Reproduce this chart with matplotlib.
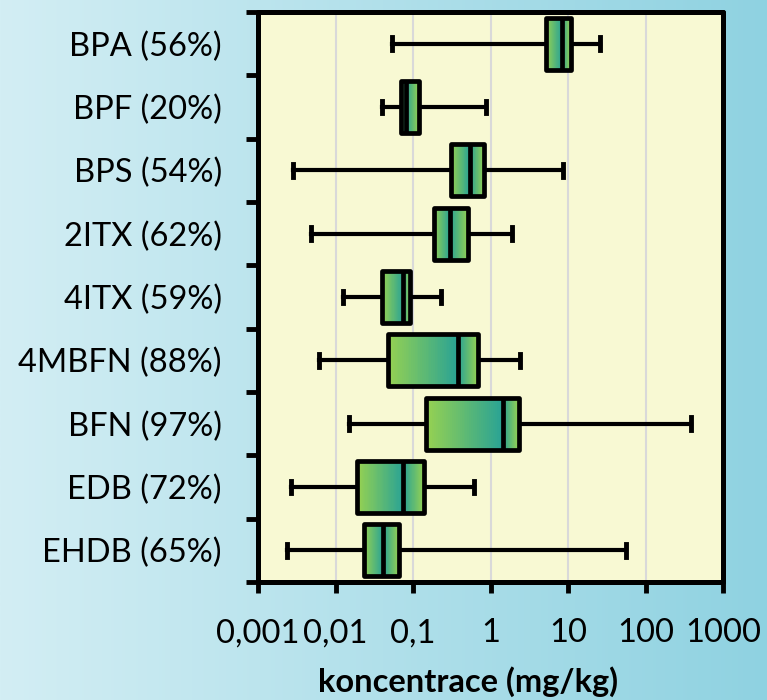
import numpy as np
import matplotlib
matplotlib.use("Agg")
import matplotlib.pyplot as plt
from matplotlib.colors import LinearSegmentedColormap
from matplotlib.ticker import FixedLocator, NullFormatter

plt.rcParams["font.family"] = ["Lato", "DejaVu Sans"]

labels = ["BPA (56%)", "BPF (20%)", "BPS (54%)", "2ITX (62%)", "4ITX (59%)",
          "4MBFN (88%)", "BFN (97%)", "EDB (72%)", "EHDB (65%)"]
whislo = [0.053, 0.0395, 0.00286, 0.0049, 0.0124, 0.0062, 0.0151, 0.0027, 0.00234]
q1 = [5.2, 0.069, 0.31, 0.185, 0.040, 0.047, 0.148, 0.019, 0.023]
med = [8.3, 0.081, 0.54, 0.30, 0.075, 0.385, 1.44, 0.075, 0.0414]
q3 = [10.8, 0.120, 0.83, 0.52, 0.091, 0.68, 2.3, 0.14, 0.066]
whishi = [25.9, 0.875, 8.5, 1.88, 0.23, 2.4, 383, 0.61, 55.5]

xticks = [0.001, 0.01, 0.1, 1, 10, 100, 1000]
xticklabels = ["0,001", "0,01", "0,1", "1", "10", "100", "1000"]

n = len(labels)
positions = np.arange(n, 0, -1)  # BPA on top
box_w = 0.82

fig = plt.figure(figsize=(7.67, 7.0), dpi=100)

# background gradient of the whole figure
bg = fig.add_axes([0, 0, 1, 1], zorder=-10)
bg_cmap = LinearSegmentedColormap.from_list("bg", ["#d3eef4", "#8fd2e1"])
bg.imshow(np.linspace(0, 1, 256).reshape(1, -1), cmap=bg_cmap, aspect="auto",
          extent=[0, 1, 0, 1])
bg.set_axis_off()

ax = fig.add_axes([258 / 767, 1 - 582 / 700, (723 - 258) / 767, (582 - 12) / 700])
ax.set_facecolor("#f8f9d3")
ax.set_xscale("log")
ax.set_xlim(0.001, 1000)
ax.set_ylim(0.5, n + 0.5)

box_cmap = LinearSegmentedColormap.from_list("box", ["#95d152", "#2aa394"])
for i in range(n):
    y0, y1 = positions[i] - box_w / 2, positions[i] + box_w / 2
    xl = np.geomspace(q1[i], med[i], 40)
    ax.pcolormesh(xl, [y0, y1], np.linspace(0, 1, 39).reshape(1, -1),
                  cmap=box_cmap, vmin=0, vmax=1, zorder=2.5)
    xr = np.geomspace(med[i], q3[i], 40)
    ax.pcolormesh(xr, [y0, y1], np.linspace(1, 0, 39).reshape(1, -1),
                  cmap=box_cmap, vmin=0, vmax=1, zorder=2.5)

stats = [dict(whislo=whislo[i], q1=q1[i], med=med[i], q3=q3[i], whishi=whishi[i],
              fliers=[]) for i in range(n)]
lw = 3.4
ax.bxp(stats, positions=positions, widths=box_w, orientation="horizontal",
       patch_artist=True, showfliers=False, capwidths=0.2,
       boxprops=dict(facecolor="none", edgecolor="black", linewidth=lw,
                     joinstyle="round", zorder=3),
       whiskerprops=dict(color="black", linewidth=3.0, zorder=2),
       capprops=dict(color="black", linewidth=3.5, zorder=2),
       medianprops=dict(color="black", linewidth=lw, zorder=3.5))

ax.grid(axis="x", which="major", color="#d9d9d9", linewidth=1.5, zorder=0)
ax.set_axisbelow(True)

ax.set_xticks(xticks)
ax.set_xticklabels(xticklabels, fontsize=23.5)
ax.xaxis.set_minor_formatter(NullFormatter())
ax.tick_params(axis="x", which="major", direction="out", length=8, width=3.5,
               pad=18, color="black")
ax.tick_params(axis="x", which="minor", length=0)

ax.set_yticks(positions)
ax.set_yticklabels(labels, fontsize=23.5)
ax.yaxis.set_minor_locator(FixedLocator(np.arange(0.5, n + 1, 1)))
ax.tick_params(axis="y", which="major", length=0, pad=26)
ax.tick_params(axis="y", which="minor", direction="out", length=9, width=3.5,
               color="black")

for s in ax.spines.values():
    s.set_linewidth(3.6)
    s.set_capstyle("round")

fig.text(468 / 767, 1 - 682 / 700, "koncentrace (mg/kg)", fontsize=23.5,
         fontweight="bold", ha="center", va="center")

fig.savefig("out.png", dpi=100)
plt.close(fig)
